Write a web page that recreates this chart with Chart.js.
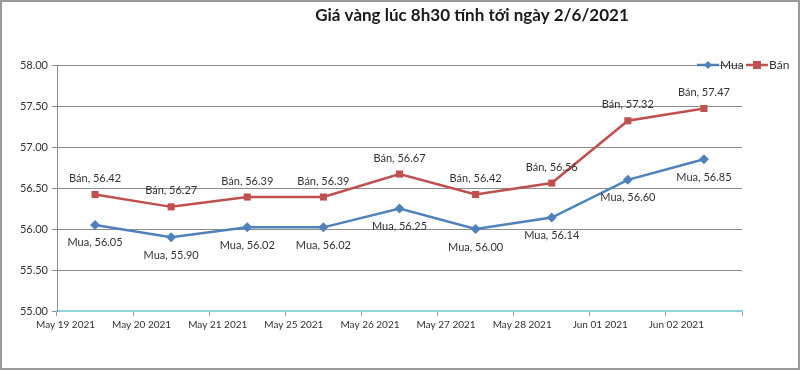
<!DOCTYPE html>
<html>
<head>
<meta charset="utf-8">
<script src="https://cdn.jsdelivr.net/npm/chart.js@4/dist/chart.umd.min.js"></script>
<style>
  html, body { margin: 0; padding: 0; background: #fff; }
  #wrap { width: 800px; height: 370px; position: relative; }
</style>
</head>
<body>
<div id="wrap"><canvas id="goldChart" width="800" height="370"></canvas></div>
<script>
// data (million VND / luong)
const dates = ['May 19 2021', 'May 20 2021', 'May 21 2021', 'May 25 2021', 'May 26 2021',
    'May 27 2021', 'May 28 2021', 'Jun 01 2021', 'Jun 02 2021'];
const muaValues = [56.05, 55.90, 56.02, 56.02, 56.25, 56.00, 56.14, 56.60, 56.85];
const banValues = [56.42, 56.27, 56.39, 56.39, 56.67, 56.42, 56.56, 57.32, 57.47];
const yTicks = [55.00, 55.50, 56.00, 56.50, 57.00, 57.50, 58.00];
const chartTitle = 'Giá vàng lúc 8h30 tính tới ngày 2/6/2021';

const FONT = 'Lato, "Open Sans", sans-serif';
const BLUE = '#4F81BD';
const RED = '#C0504D';

// frame + title + legend + point labels
const decorPlugin = {
    id: 'decor',
    beforeDraw(chart) {
        const ctx = chart.ctx;
        ctx.save();
        ctx.fillStyle = '#fff';
        ctx.fillRect(0, 0, chart.width, chart.height);
        ctx.restore();
    },
    afterDatasetsDraw(chart) {
        const ctx = chart.ctx;
        ctx.save();
        ctx.font = '11px ' + FONT;
        ctx.fillStyle = '#333';
        ctx.textAlign = 'center';
        ctx.textBaseline = 'middle';
        chart.data.datasets.forEach((ds, i) => {
            const meta = chart.getDatasetMeta(i);
            const dy = ds.label === 'Bán' ? -16 : 18;
            meta.data.forEach((pt, j) => {
                ctx.fillText(ds.label + ', ' + ds.data[j].toFixed(2), pt.x, pt.y + dy);
            });
        });
        ctx.restore();
    },
    afterDraw(chart) {
        const ctx = chart.ctx;
        ctx.save();
        // title
        ctx.font = 'bold 17px ' + FONT;
        ctx.fillStyle = '#1a1a1a';
        ctx.textAlign = 'center';
        ctx.textBaseline = 'middle';
        ctx.fillText(chartTitle, 472, 16);

        // legend
        ctx.font = '12px ' + FONT;
        ctx.textAlign = 'left';
        let x = 697;
        const y = 65;
        chart.data.datasets.forEach(ds => {
            ctx.strokeStyle = ds.borderColor;
            ctx.lineWidth = 2.5;
            ctx.beginPath();
            ctx.moveTo(x, y);
            ctx.lineTo(x + 22, y);
            ctx.stroke();
            ctx.fillStyle = ds.borderColor;
            const cx = x + 11;
            if (ds.pointStyle === 'rectRot') {
                ctx.beginPath();
                ctx.moveTo(cx, y - 4);
                ctx.lineTo(cx + 4, y);
                ctx.lineTo(cx, y + 4);
                ctx.lineTo(cx - 4, y);
                ctx.closePath();
                ctx.fill();
            } else {
                ctx.fillRect(cx - 4, y - 4, 8, 8);
            }
            ctx.fillStyle = '#333';
            ctx.fillText(ds.label, x + 23, y);
            x += 49;
        });

        // outer frame
        ctx.strokeStyle = '#9a9a9a';
        ctx.lineWidth = 2;
        ctx.strokeRect(1, 1, chart.width - 2, chart.height - 2);
        ctx.restore();
    }
};

new Chart(document.getElementById('goldChart').getContext('2d'), {
    type: 'line',
    data: {
        labels: dates,
        datasets: [{
            label: 'Mua',
            data: muaValues,
            borderColor: BLUE,
            backgroundColor: BLUE,
            borderWidth: 2.5,
            pointStyle: 'rectRot',
            pointRadius: 5,
            pointBorderWidth: 0,
            tension: 0
        }, {
            label: 'Bán',
            data: banValues,
            borderColor: RED,
            backgroundColor: RED,
            borderWidth: 2.5,
            pointStyle: 'rect',
            pointRadius: 5,
            pointBorderWidth: 0,
            tension: 0
        }]
    },
    options: {
        responsive: false,
        animation: false,
        layout: { padding: { left: 0, right: 58, top: 65, bottom: 29 } },
        plugins: {
            legend: { display: false },
            tooltip: { enabled: false },
            title: { display: false }
        },
        scales: {
            x: {
                offset: true,
                grid: { offset: true, drawOnChartArea: false, drawTicks: true, tickLength: 5, color: '#9a9a9a' },
                border: { color: '#8ED3DC', width: 2 },
                ticks: {
                    color: '#333',
                    font: { family: FONT, size: 10 },
                    align: 'end',
                    maxRotation: 0,
                    autoSkip: false,
                    padding: 3
                },
                afterFit(scale) { scale.height = 30; }
            },
            y: {
                min: 55,
                max: 58,
                afterBuildTicks(scale) { scale.ticks = yTicks.map(v => ({ value: v })); },
                grid: { color: '#8c8c8c', tickLength: 5, lineWidth: 1 },
                border: { color: '#8c8c8c' },
                ticks: {
                    color: '#333',
                    font: { family: FONT, size: 11 },
                    padding: 4,
                    callback: v => Number(v).toFixed(2)
                },
                afterFit(scale) { scale.width = 57; }
            }
        }
    },
    plugins: [decorPlugin]
});
</script>
</body>
</html>
